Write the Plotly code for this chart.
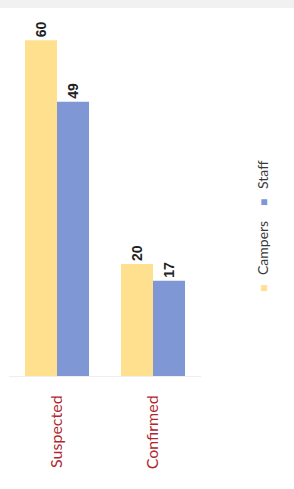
import plotly.graph_objects as go

categories = ["Suspected", "Confirmed"]
campers = [60, 20]
staff = [49, 17]
series_names = ["Campers", "Staff"]

yellow = "#FEE08E"
blue = "#7F98D5"

fig = go.Figure()
for name, vals, col in [(series_names[0], campers, yellow), (series_names[1], staff, blue)]:
    fig.add_trace(go.Bar(
        x=categories, y=vals, name=name, marker_color=col, marker_line_width=0,
        text=[str(v) for v in vals], textposition="outside", textangle=-90,
        textfont=dict(family="Liberation Sans", size=14, color="#222222", weight="bold"),
        cliponaxis=False,
    ))

fig.update_layout(
    width=294, height=489,
    margin=dict(l=9, r=93, t=10, b=113),
    paper_bgcolor="white", plot_bgcolor="white",
    barmode="group", bargap=0.333, bargroupgap=0,
    showlegend=False,
    uniformtext=dict(minsize=14, mode="show"),
)
fig.update_xaxes(
    tickangle=-90, tickfont=dict(family="Lato", size=16, color="#B0282E"),
    showline=True, linecolor="#EEEEEE", linewidth=1, ticks="",
    ticklabelstandoff=12,
)
fig.update_yaxes(range=[0, 65.4], visible=False, showgrid=False)

H = 366.0
def py(pix):
    return 1 - (pix - 10) / H

# legend drawn as rotated annotations
leg_font = dict(family="Lato", size=14, color="#3A3A3A")
common = dict(xref="paper", yref="paper", x=(263 - 9) / 192.0, textangle=-90, showarrow=False,
              xanchor="center", yanchor="middle")
fig.add_annotation(y=py(289), text="■", font=dict(size=12, color=yellow), **common)
fig.add_annotation(y=py(248), text=series_names[0], font=leg_font, **common)
fig.add_annotation(y=py(203), text="■", font=dict(size=12, color=blue), **common)
fig.add_annotation(y=py(175), text=series_names[1], font=leg_font, **common)

# faint gray band at top of the photo
fig.add_shape(type="rect", xref="paper", yref="paper", x0=-0.05, x1=1.5, y0=py(8), y1=py(0),
              fillcolor="#F1F1F1", line_width=0, layer="below")

fig.write_html("out.html", config={"displayModeBar": False},
               post_script="document.body.style.margin='0';")
